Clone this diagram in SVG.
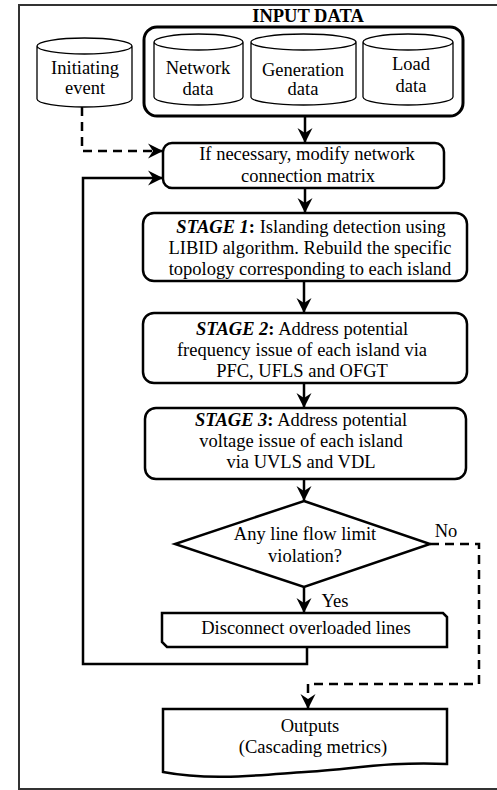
<svg xmlns="http://www.w3.org/2000/svg" width="497" height="790" viewBox="0 0 497 790">
<style>
text{font-family:"Liberation Serif","Times New Roman",serif;font-size:18.5px;fill:#000;text-anchor:middle}
.b{font-weight:bold}
.box{fill:#fff;stroke:#000;stroke-width:2.5}
.cyl{fill:#fff;stroke:#000;stroke-width:1.3}
.ln{fill:none;stroke:#000;stroke-width:2.5}
.dash{stroke-dasharray:9,6}
</style>
<defs>
<marker id="ah" markerUnits="userSpaceOnUse" markerWidth="18" markerHeight="18" viewBox="-16 -9 18 18" refX="0" refY="0" orient="auto">
<path d="M0,0 L-15,-7.5 L-10,0 L-15,7.5 Z" fill="#000"/>
</marker>
</defs>
<rect x="19" y="5" width="490" height="784" fill="#fff" stroke="#333" stroke-width="2"/>

<g id="connectors">
<line class="ln" x1="305" y1="116" x2="305" y2="143" marker-end="url(#ah)"/>
<polyline class="ln dash" points="82,107 82,151 163,151" marker-end="url(#ah)"/>
<polyline class="ln" points="307,647 307,664 83,664 83,178 163,178" marker-end="url(#ah)"/>
<line class="ln" x1="305" y1="188" x2="305" y2="213" marker-end="url(#ah)"/>
<line class="ln" x1="304" y1="281" x2="304" y2="313" marker-end="url(#ah)"/>
<line class="ln" x1="304" y1="383" x2="304" y2="408" marker-end="url(#ah)"/>
<line class="ln" x1="304" y1="479" x2="304" y2="501" marker-end="url(#ah)"/>
<line class="ln" x1="304" y1="587" x2="304" y2="613" marker-end="url(#ah)"/>
<polyline class="ln dash" points="430,544 479,544 479,684 308,684 308,709" marker-end="url(#ah)"/>
<text x="446" y="537">No</text>
<text x="335" y="607">Yes</text>
</g>

<g id="input-data">
<rect x="144" y="27" width="319" height="89" rx="13" fill="#fff" stroke="#000" stroke-width="3"/>
<text class="b" x="308" y="22">INPUT DATA</text>
</g>

<g id="initiating-event">
<path class="cyl" d="M37,46 V99 A47.5,8 0 0 0 132,99 V46 A47.5,8 0 0 0 37,46 A47.5,8 0 0 0 132,46"/>
<text x="85" y="74">Initiating</text>
<text x="85" y="94">event</text>
</g>

<g id="network-data">
<path class="cyl" d="M154,42 V97 A44.5,8 0 0 0 243,97 V42 A44.5,8 0 0 0 154,42 A44.5,8 0 0 0 243,42"/>
<text x="198" y="74">Network</text>
<text x="198" y="95">data</text>
</g>

<g id="generation-data">
<path class="cyl" d="M251,42 V97 A52.5,8 0 0 0 356,97 V42 A52.5,8 0 0 0 251,42 A52.5,8 0 0 0 356,42"/>
<text x="303" y="76">Generation</text>
<text x="303" y="95">data</text>
</g>

<g id="load-data">
<path class="cyl" d="M363,42 V97 A45,8 0 0 0 453,97 V42 A45,8 0 0 0 363,42 A45,8 0 0 0 453,42"/>
<text x="411" y="70">Load</text>
<text x="411" y="92">data</text>
</g>

<g id="modify-matrix">
<rect class="box" x="163" y="143" width="281" height="45" rx="9"/>
<text x="307" y="160">If necessary, modify network</text>
<text x="308" y="182">connection matrix</text>
</g>

<g id="stage1">
<rect class="box" x="143" y="213" width="324" height="68" rx="11"/>
<text x="311" y="233"><tspan class="b" font-style="italic">STAGE 1</tspan><tspan class="b">:</tspan> Islanding detection using</text>
<text x="310" y="254">LIBID algorithm. Rebuild the specific</text>
<text x="310" y="275">topology corresponding to each island</text>
</g>

<g id="stage2">
<rect class="box" x="143" y="313" width="324" height="70" rx="11"/>
<text x="302" y="335"><tspan class="b" font-style="italic">STAGE 2</tspan><tspan class="b">:</tspan> Address potential</text>
<text x="302" y="356">frequency issue of each island via</text>
<text x="302" y="377">PFC, UFLS and OFGT</text>
</g>

<g id="stage3">
<rect class="box" x="145" y="408" width="321" height="71" rx="11"/>
<text x="301" y="426"><tspan class="b" font-style="italic">STAGE 3</tspan><tspan class="b">:</tspan> Address potential</text>
<text x="301" y="447">voltage issue of each island</text>
<text x="301" y="468">via UVLS and VDL</text>
</g>

<g id="decision">
<polygon class="box" points="304,501 430,544 304,587 175,544"/>
<text x="305" y="540">Any line flow limit</text>
<text x="305" y="562">violation?</text>
</g>

<g id="disconnect">
<path class="box" d="M162,613 H443 L447,617 V647 H167 L162,642 Z"/>
<text x="306" y="634">Disconnect overloaded lines</text>
</g>

<g id="outputs">
<path class="box" d="M163,709 H447 V764 C390,761 345,770 305,772 C260,775 210,781 163,772 Z"/>
<text x="310" y="732">Outputs</text>
<text x="313" y="753">(Cascading metrics)</text>
</g>
</svg>
